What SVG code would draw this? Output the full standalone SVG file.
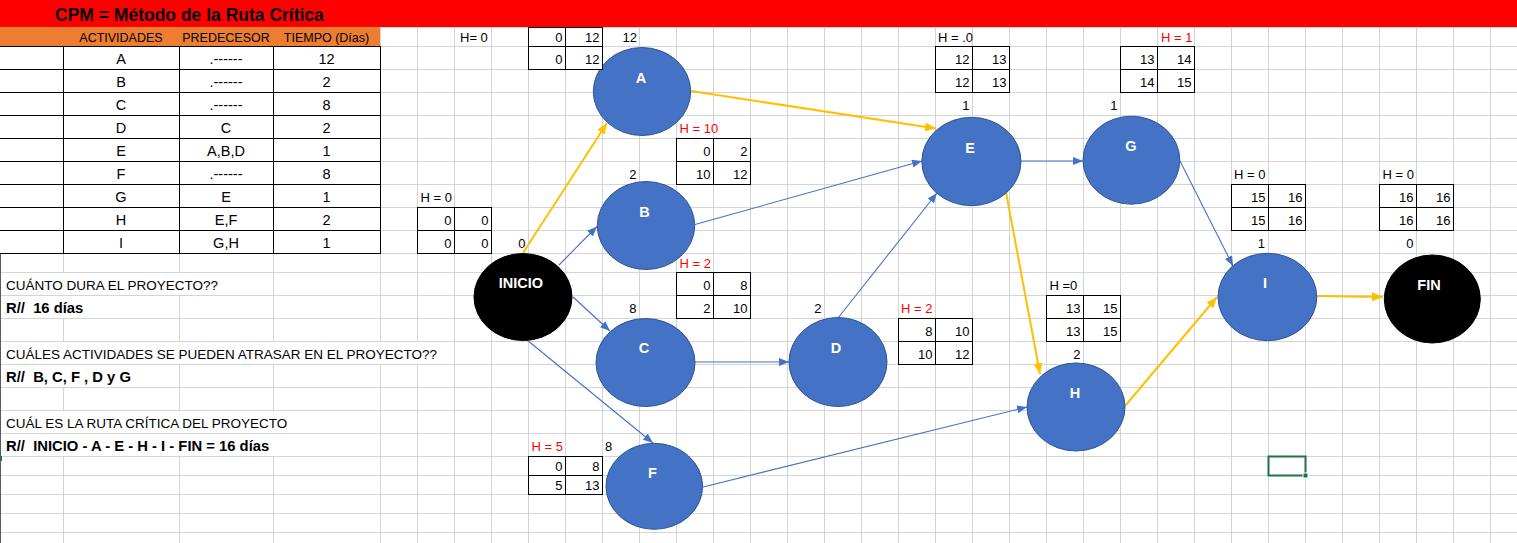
<svg xmlns="http://www.w3.org/2000/svg" width="1517" height="543" viewBox="0 0 1517 543">
  <style>
    .t { font-family: "Liberation Sans", Arial, sans-serif; font-size: 13px; fill: #000; }
    .e { text-anchor: end; }
    .m { text-anchor: middle; }
    .red { fill: #FF0000; }
    .grid { stroke: #D4D4D4; stroke-width: 1; fill: none; }
    .tb { stroke: #000; stroke-width: 1; fill: none; }
    .bx { fill: #fff; stroke: #000; stroke-width: 1; }
    .nd { fill: #4472C4; stroke: #2F5597; stroke-width: 1; }
    .bk { fill: #000; stroke: #000; stroke-width: 1; }
    .lbl { font-family: "Liberation Sans", Arial, sans-serif; font-size: 14.5px; font-weight: bold; fill: #fff; text-anchor: middle; }
    .body { font-size: 14.5px; }
    .q { font-size: 13.5px; white-space: pre; }
    .qb { font-size: 14.8px; font-weight: bold; white-space: pre; }
    .cb { stroke: #4472C4; stroke-width: 1.1; fill: none; marker-end: url(#ab); }
    .co { stroke: #FFC000; stroke-width: 2; fill: none; marker-end: url(#ao); }
  </style>
  <defs>
    <marker id="ab" viewBox="0 0 10 8" refX="10" refY="4" markerWidth="10" markerHeight="8" markerUnits="userSpaceOnUse" orient="auto">
      <path d="M0,0 L10,4 L0,8 z" fill="#4472C4"/>
    </marker>
    <marker id="ao" viewBox="0 0 11 9" refX="11" refY="4.5" markerWidth="11" markerHeight="9" markerUnits="userSpaceOnUse" orient="auto">
      <path d="M0,0 L11,4.5 L0,9 z" fill="#FFC000"/>
    </marker>
  </defs>

  <!-- sheet background and gridlines -->
  <rect x="0" y="0" width="1517" height="543" fill="#fff"/>
  <path class="grid" d="M63.5 27V543M179.5 27V543M273.5 27V543M380.5 27V543M417.5 27V543M454.5 27V543M491.5 27V543M528.5 27V543M565.5 27V543M602.5 27V543M639.5 27V543M676.5 27V543M713.5 27V543M750.5 27V543M787.5 27V543M824.5 27V543M861.5 27V543M898.5 27V543M935.5 27V543M972.5 27V543M1009.5 27V543M1046.5 27V543M1083.5 27V543M1120.5 27V543M1157.5 27V543M1194.5 27V543M1231.5 27V543M1268.5 27V543M1305.5 27V543M1342.5 27V543M1379.5 27V543M1416.5 27V543M1453.5 27V543M1490.5 27V543"/>
  <path class="grid" d="M0 27.5H1517M0 46.5H1517M0 69.5H1517M0 92.5H1517M0 115.5H1517M0 138.5H1517M0 161.5H1517M0 184.5H1517M0 207.5H1517M0 230.5H1517M0 253.5H1517M0 272.5H1517M0 295.5H1517M0 318.5H1517M0 341.5H1517M0 364.5H1517M0 387.5H1517M0 410.5H1517M0 433.5H1517M0 456.5H1517M0 475.5H1517M0 494.5H1517M0 513.5H1517M0 532.5H1517"/>
  <line x1="0.5" y1="27" x2="0.5" y2="543" stroke="#5a5a5a" stroke-width="1"/>
  <rect x="0" y="452" width="2" height="9" fill="#217346"/>

  <!-- title bar -->
  <rect x="0" y="0" width="1517" height="27" fill="#FF0000"/>
  <text class="t" x="55" y="21" style="font-size:17.5px;font-weight:bold">CPM = Método de la Ruta Crítica</text>

  <!-- activity table -->
  <g id="tabla">
    <rect x="0" y="27" width="380" height="19" fill="#ED7D31"/>
    <text class="t m" x="121" y="42" style="font-size:12.5px">ACTIVIDADES</text>
    <text class="t m" x="226" y="42" style="font-size:12.5px">PREDECESOR</text>
    <text class="t m" x="326.5" y="42" style="font-size:12.5px">TIEMPO (Días)</text>
    <rect x="0" y="47" width="380" height="206" fill="#fff"/>
    <path class="tb" d="M0 46.5H380.5M0 69.5H380.5M0 92.5H380.5M0 115.5H380.5M0 138.5H380.5M0 161.5H380.5M0 184.5H380.5M0 207.5H380.5M0 230.5H380.5M0 253.5H380.5M63.5 46V254M179.5 46V254M273.5 46V254M380.5 46V254"/>
    <g class="t m body">
      <text x="121" y="64">A</text><text x="226" y="64">.------</text><text x="326.5" y="64">12</text>
      <text x="121" y="87">B</text><text x="226" y="87">.------</text><text x="326.5" y="87">2</text>
      <text x="121" y="110">C</text><text x="226" y="110">.------</text><text x="326.5" y="110">8</text>
      <text x="121" y="133">D</text><text x="226" y="133">C</text><text x="326.5" y="133">2</text>
      <text x="121" y="156">E</text><text x="226" y="156">A,B,D</text><text x="326.5" y="156">1</text>
      <text x="121" y="179">F</text><text x="226" y="179">.------</text><text x="326.5" y="179">8</text>
      <text x="121" y="202">G</text><text x="226" y="202">E</text><text x="326.5" y="202">1</text>
      <text x="121" y="225">H</text><text x="226" y="225">E,F</text><text x="326.5" y="225">2</text>
      <text x="121" y="248">I</text><text x="226" y="248">G,H</text><text x="326.5" y="248">1</text>
    </g>
  </g>

  <!-- questions and answers (text overflows across cells, hiding the gridlines) -->
  <g id="preguntas">
    <rect x="1" y="273" width="272" height="22" fill="#fff"/>
    <rect x="1" y="296" width="178" height="22" fill="#fff"/>
    <rect x="1" y="342" width="453" height="22" fill="#fff"/>
    <rect x="1" y="365" width="178" height="22" fill="#fff"/>
    <rect x="1" y="411" width="379" height="22" fill="#fff"/>
    <rect x="1" y="434" width="379" height="22" fill="#fff"/>
    <text class="t q" x="6" y="290">CUÁNTO DURA EL PROYECTO??</text>
    <text class="t qb" x="6" y="313" xml:space="preserve">R//  16 días</text>
    <text class="t q" x="6" y="359">CUÁLES ACTIVIDADES SE PUEDEN ATRASAR EN EL PROYECTO??</text>
    <text class="t qb" x="6" y="382" xml:space="preserve">R//  B, C, F , D y G</text>
    <text class="t q" x="6" y="428">CUÁL ES LA RUTA CRÍTICA DEL PROYECTO</text>
    <text class="t qb" x="6" y="451" xml:space="preserve">R//  INICIO - A - E - H - I - FIN = 16 días</text>
  </g>

  <!-- connectors -->
  <g id="conectores">
    <line class="co" x1="523" y1="253" x2="607" y2="123"/>
    <line class="co" x1="691" y1="91" x2="936" y2="128.5"/>
    <line class="co" x1="1006" y1="192" x2="1040" y2="374"/>
    <line class="co" x1="1125" y1="406" x2="1217" y2="297"/>
    <line class="co" x1="1317" y1="296" x2="1383" y2="297"/>
    <line class="cb" x1="559" y1="265" x2="597" y2="226.5"/>
    <line class="cb" x1="573" y1="297" x2="610" y2="331"/>
    <line class="cb" x1="527" y1="340" x2="653" y2="443"/>
    <line class="cb" x1="695" y1="224.5" x2="922" y2="161"/>
    <line class="cb" x1="695" y1="362" x2="789" y2="362"/>
    <line class="cb" x1="838" y1="318" x2="937" y2="193"/>
    <line class="cb" x1="1021" y1="161" x2="1083" y2="161"/>
    <line class="cb" x1="1180" y1="161" x2="1233" y2="266"/>
    <line class="cb" x1="703" y1="487" x2="1027" y2="407"/>
  </g>

  <!-- nodes: ellipse, label, schedule box (ES EF / LS LF), slack and duration -->
  <g id="inicio">
    <ellipse class="bk" cx="523" cy="297" rx="49" ry="43.5"/>
    <text class="lbl" x="521" y="288">INICIO</text>
    <text class="t" x="420.5" y="202">H = 0</text>
    <rect class="bx" x="417.5" y="207.5" width="74" height="46"/>
    <path class="tb" d="M454.5 207.5V253.5M417.5 230.5H491.5"/>
    <text class="t e" x="451.5" y="225">0</text><text class="t e" x="488.5" y="225">0</text>
    <text class="t e" x="451.5" y="248">0</text><text class="t e" x="488.5" y="248">0</text>
    <text class="t e" x="525.5" y="248">0</text>
  </g>

  <g id="nodo-a">
    <ellipse class="nd" cx="642" cy="91.5" rx="48.7" ry="44"/>
    <text class="lbl" x="641" y="82.5">A</text>
    <text class="t" x="460" y="42">H= 0</text>
    <rect class="bx" x="528.5" y="27.5" width="74" height="42"/>
    <path class="tb" d="M565.5 27.5V69.5M528.5 46.5H602.5"/>
    <text class="t e" x="562.5" y="42">0</text><text class="t e" x="599.5" y="42">12</text>
    <text class="t e" x="562.5" y="64">0</text><text class="t e" x="599.5" y="64">12</text>
    <text class="t e" x="637" y="42">12</text>
  </g>

  <g id="nodo-b">
    <ellipse class="nd" cx="646" cy="225.5" rx="48.7" ry="44"/>
    <text class="lbl" x="644.5" y="216.5">B</text>
    <text class="t red" x="679.5" y="133">H = 10</text>
    <rect class="bx" x="676.5" y="138.5" width="74" height="46"/>
    <path class="tb" d="M713.5 138.5V184.5M676.5 161.5H750.5"/>
    <text class="t e" x="710.5" y="156">0</text><text class="t e" x="747.5" y="156">2</text>
    <text class="t e" x="710.5" y="179">10</text><text class="t e" x="747.5" y="179">12</text>
    <text class="t e" x="636.5" y="179">2</text>
  </g>

  <g id="nodo-c">
    <ellipse class="nd" cx="645.5" cy="362.5" rx="49.5" ry="44"/>
    <text class="lbl" x="644" y="353">C</text>
    <text class="t red" x="679.5" y="268">H = 2</text>
    <rect class="bx" x="676.5" y="272.5" width="74" height="46"/>
    <path class="tb" d="M713.5 272.5V318.5M676.5 295.5H750.5"/>
    <text class="t e" x="710.5" y="290">0</text><text class="t e" x="747.5" y="290">8</text>
    <text class="t e" x="710.5" y="313">2</text><text class="t e" x="747.5" y="313">10</text>
    <text class="t e" x="636.5" y="313">8</text>
  </g>

  <g id="nodo-d">
    <ellipse class="nd" cx="838" cy="362" rx="49" ry="44.5"/>
    <text class="lbl" x="836" y="352.5">D</text>
    <text class="t red" x="901" y="313">H = 2</text>
    <rect class="bx" x="898.5" y="318.5" width="74" height="46"/>
    <path class="tb" d="M935.5 318.5V364.5M898.5 341.5H972.5"/>
    <text class="t e" x="932.5" y="336">8</text><text class="t e" x="969.5" y="336">10</text>
    <text class="t e" x="932.5" y="359">10</text><text class="t e" x="969.5" y="359">12</text>
    <text class="t e" x="821.5" y="313">2</text>
  </g>

  <g id="nodo-e">
    <ellipse class="nd" cx="971.4" cy="161.5" rx="49.6" ry="44.2"/>
    <text class="lbl" x="970" y="152.5">E</text>
    <text class="t" x="938" y="42">H = .0</text>
    <rect class="bx" x="935.5" y="46.5" width="74" height="46"/>
    <path class="tb" d="M972.5 46.5V92.5M935.5 69.5H1009.5"/>
    <text class="t e" x="969.5" y="64">12</text><text class="t e" x="1006.5" y="64">13</text>
    <text class="t e" x="969.5" y="87">12</text><text class="t e" x="1006.5" y="87">13</text>
    <text class="t e" x="969.5" y="110">1</text>
  </g>

  <g id="nodo-f">
    <ellipse class="nd" cx="654.3" cy="486.3" rx="48.3" ry="43"/>
    <text class="lbl" x="652.5" y="477.5">F</text>
    <text class="t red" x="531.5" y="451">H = 5</text>
    <rect class="bx" x="528.5" y="456.5" width="74" height="38"/>
    <path class="tb" d="M565.5 456.5V494.5M528.5 475.5H602.5"/>
    <text class="t e" x="562.5" y="471">0</text><text class="t e" x="599.5" y="471">8</text>
    <text class="t e" x="562.5" y="490">5</text><text class="t e" x="599.5" y="490">13</text>
    <text class="t" x="605" y="451">8</text>
  </g>

  <g id="nodo-g">
    <ellipse class="nd" cx="1131.4" cy="160.2" rx="48.4" ry="44"/>
    <text class="lbl" x="1131" y="151">G</text>
    <text class="t red" x="1161" y="42">H = 1</text>
    <rect class="bx" x="1120.5" y="46.5" width="74" height="46"/>
    <path class="tb" d="M1157.5 46.5V92.5M1120.5 69.5H1194.5"/>
    <text class="t e" x="1154.5" y="64">13</text><text class="t e" x="1191.5" y="64">14</text>
    <text class="t e" x="1154.5" y="87">14</text><text class="t e" x="1191.5" y="87">15</text>
    <text class="t e" x="1117.5" y="110">1</text>
  </g>

  <g id="nodo-h">
    <ellipse class="nd" cx="1076" cy="407" rx="49" ry="44"/>
    <text class="lbl" x="1075" y="397.5">H</text>
    <text class="t" x="1049.5" y="290">H =0</text>
    <rect class="bx" x="1046.5" y="295.5" width="74" height="46"/>
    <path class="tb" d="M1083.5 295.5V341.5M1046.5 318.5H1120.5"/>
    <text class="t e" x="1080.5" y="313">13</text><text class="t e" x="1117.5" y="313">15</text>
    <text class="t e" x="1080.5" y="336">13</text><text class="t e" x="1117.5" y="336">15</text>
    <text class="t e" x="1080.5" y="359">2</text>
  </g>

  <g id="nodo-i">
    <ellipse class="nd" cx="1267.4" cy="297" rx="49.4" ry="43.7"/>
    <text class="lbl" x="1265" y="288">I</text>
    <text class="t" x="1234" y="179">H = 0</text>
    <rect class="bx" x="1231.5" y="184.5" width="74" height="46"/>
    <path class="tb" d="M1268.5 184.5V230.5M1231.5 207.5H1305.5"/>
    <text class="t e" x="1265.5" y="202">15</text><text class="t e" x="1302.5" y="202">16</text>
    <text class="t e" x="1265.5" y="225">15</text><text class="t e" x="1302.5" y="225">16</text>
    <text class="t e" x="1265" y="248">1</text>
  </g>

  <g id="fin">
    <ellipse class="bk" cx="1432.3" cy="299" rx="48" ry="44"/>
    <text class="lbl" x="1429" y="290">FIN</text>
    <text class="t" x="1382.5" y="179">H = 0</text>
    <rect class="bx" x="1379.5" y="184.5" width="74" height="46"/>
    <path class="tb" d="M1416.5 184.5V230.5M1379.5 207.5H1453.5"/>
    <text class="t e" x="1413.5" y="202">16</text><text class="t e" x="1450.5" y="202">16</text>
    <text class="t e" x="1413.5" y="225">16</text><text class="t e" x="1450.5" y="225">16</text>
    <text class="t e" x="1413.5" y="248">0</text>
  </g>

  <!-- active cell cursor -->
  <rect x="1268.5" y="456.5" width="37" height="19" fill="none" stroke="#217346" stroke-width="2"/>
  <rect x="1303" y="473" width="5" height="5" fill="#217346" stroke="#fff" stroke-width="1"/>
</svg>
